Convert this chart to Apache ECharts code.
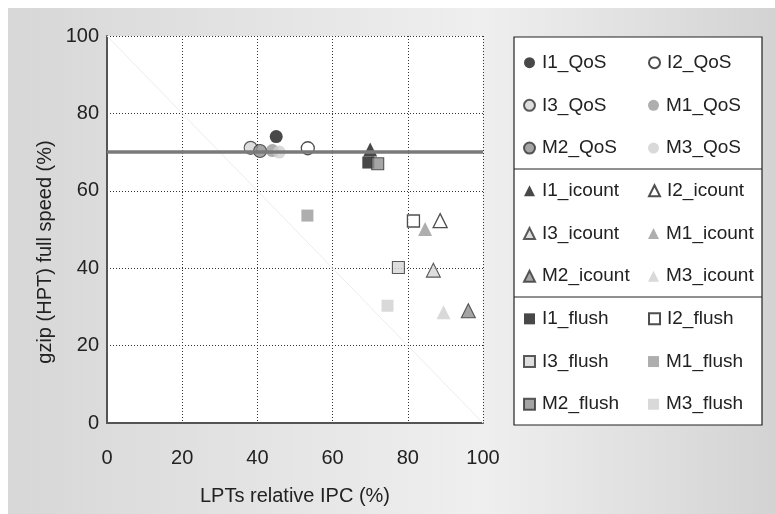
<!DOCTYPE html>
<html><head><meta charset="utf-8">
<script src="https://cdn.jsdelivr.net/npm/echarts@6/dist/echarts.min.js"></script>
<style>html,body{margin:0;padding:0;background:#fff}#c{width:775px;height:514px}</style>
</head><body><div id="c"></div>
<script>
var seriesNames = ['I1_QoS','I2_QoS','I3_QoS','M1_QoS','M2_QoS','M3_QoS',
  'I1_icount','I2_icount','I3_icount','M1_icount','M2_icount','M3_icount',
  'I1_flush','I2_flush','I3_flush','M1_flush','M2_flush','M3_flush'];
var xValues = [45, 53.4, 38.2, 44, 40.7, 45.8,
  70, 88.6, 86.8, 84.6, 96.1, 89.5,
  69.5, 81.5, 77.5, 53.3, 72, 74.6];
var yValues = [74, 71, 71.1, 70.4, 70.3, 70,
  70.7, 52.3, 39.5, 50.1, 29, 28.6,
  67.3, 52.2, 40.2, 53.6, 67, 30.3];
var qosLevel = 70;
var xTicks = [0, 20, 40, 60, 80, 100];
var yTicks = [0, 20, 40, 60, 80, 100];

var shapes = {QoS: 'circle', icount: 'triangle', flush: 'rect'};
var sizes = {QoS: 13, icount: 14, flush: 12};
var styles = {
  I1: {color: '#1a1a1a', borderColor: '#1a1a1a', borderWidth: 0},
  I2: {color: '#ffffff', borderColor: '#222', borderWidth: 1.3},
  I3: {color: '#d6d6d6', borderColor: '#333', borderWidth: 1.1},
  M1: {color: '#9a9a9a', borderColor: '#9a9a9a', borderWidth: 0},
  M2: {color: '#8e8e8e', borderColor: '#333', borderWidth: 1.1},
  M3: {color: '#cfcfcf', borderColor: '#cfcfcf', borderWidth: 0}
};

var series = seriesNames.map(function (n, i) {
  var p = n.split('_');
  return {
    name: n, type: 'scatter', symbol: shapes[p[1]], symbolSize: sizes[p[1]],
    itemStyle: styles[p[0]], data: [[xValues[i], yValues[i]]], z: 3,
    emphasis: {disabled: true}
  };
});
series.unshift({
  name: 'diag', type: 'line', data: [[0, 100], [100, 0]], symbol: 'none',
  lineStyle: {color: '#ececec', width: 1}, z: 1, silent: true
});
series.push({
  name: 'qos', type: 'line', data: [[0, qosLevel], [100, qosLevel]], symbol: 'none',
  lineStyle: {color: '#7a7a7a', width: 3.5}, z: 5, silent: true
});

var chart = echarts.init(document.getElementById('c'), null, {renderer: 'canvas'});
var font = 'Liberation Sans, Arial, sans-serif';
chart.setOption({
  animation: false,
  backgroundColor: '#ffffff',
  textStyle: {fontFamily: font},
  graphic: [
    {type: 'rect', z: -10, shape: {x: 8, y: 8, width: 767, height: 506},
      style: {fill: new echarts.graphic.LinearGradient(0, 0, 1, 0, [
        {offset: 0, color: '#d7d7d7'}, {offset: 0.62, color: '#efefef'}, {offset: 1, color: '#d3d3d3'}])}},
    {type: 'rect', z: -5, shape: {x: 514, y: 37, width: 248, height: 388},
      style: {fill: '#fff', stroke: '#222', lineWidth: 1.2}},
    {type: 'line', z: -4, shape: {x1: 514, y1: 169, x2: 762, y2: 169}, style: {stroke: '#222', lineWidth: 1.2}},
    {type: 'line', z: -4, shape: {x1: 514, y1: 297, x2: 762, y2: 297}, style: {stroke: '#222', lineWidth: 1.2}},
    {type: 'text', x: 45, y: 252, rotation: Math.PI / 2,
      style: {text: 'gzip (HPT) full speed (%)', font: '20px ' + font, fill: '#222', align: 'center', verticalAlign: 'middle'}}
  ],
  grid: {left: 107, right: 292, top: 36, bottom: 91, show: true, backgroundColor: '#fff', borderWidth: 0},
  legend: {
    data: seriesNames, left: 523, top: 48.3, width: 240, padding: 0,
    orient: 'horizontal', itemWidth: 11, itemHeight: 11, itemGap: 14,
    selectedMode: false,
    textStyle: {fontSize: 19, color: '#222', width: 92, lineHeight: 28.7, fontFamily: font, padding: [0, 0, 0, 2]}
  },
  xAxis: {
    type: 'value', min: xTicks[0], max: xTicks[xTicks.length - 1], interval: 20,
    name: 'LPTs relative IPC (%)', nameLocation: 'middle', nameGap: 63,
    nameTextStyle: {fontSize: 20, color: '#222', fontFamily: font},
    axisLine: {show: true, onZero: false, lineStyle: {color: '#555', width: 2}},
    axisTick: {show: false},
    axisLabel: {fontSize: 20, color: '#222', margin: 25, fontFamily: font},
    splitLine: {show: true, lineStyle: {color: '#333', type: [1, 2], width: 1}}
  },
  yAxis: {
    type: 'value', min: yTicks[0], max: yTicks[yTicks.length - 1], interval: 20,
    axisLine: {show: true, onZero: false, lineStyle: {color: '#555', width: 2}},
    axisTick: {show: false},
    axisLabel: {fontSize: 20, color: '#222', margin: 8, fontFamily: font},
    splitLine: {show: true, lineStyle: {color: '#333', type: [1, 2], width: 1}}
  },
  series: series
});
</script></body></html>
